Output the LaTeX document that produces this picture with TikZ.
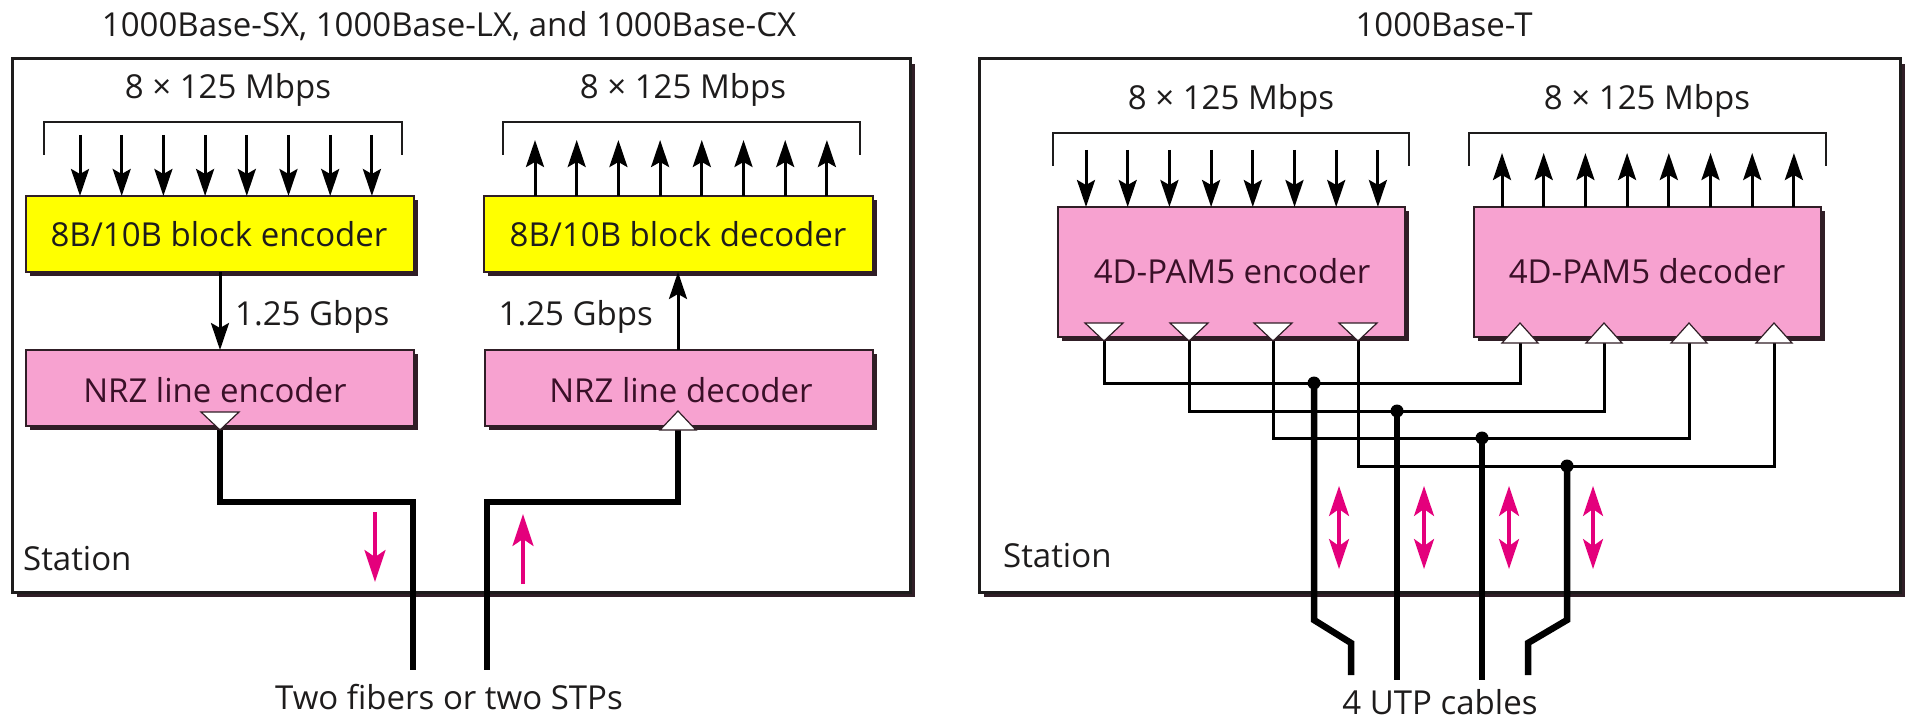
\documentclass[tikz,border=0pt]{standalone}
\usepackage{fontspec}
\setmainfont{Open Sans}
\usetikzlibrary{arrows.meta,shadows}
\definecolor{ybox}{RGB}{255,255,0}
\definecolor{pbox}{RGB}{247,162,208}
\definecolor{mag}{RGB}{228,0,124}
\definecolor{ink}{RGB}{30,28,28}
\definecolor{pink ink}{RGB}{58,16,40}
\definecolor{shad}{RGB}{48,30,38}
\tikzset{
  lbl/.style={font=\fontsize{33}{39}\selectfont, text=ink, inner sep=0pt, anchor=base},
  station/.style={draw=ink, line width=3pt, fill=white, inner sep=0pt, outer sep=0pt,
    drop shadow={shadow xshift=5pt, shadow yshift=-5pt, fill=shad, opacity=1}},
  blk/.style={draw=shad, line width=1.2pt, inner sep=0pt, outer sep=0pt, anchor=north west,
    drop shadow={shadow xshift=4pt, shadow yshift=-4pt, fill=shad, opacity=1}},
  yblk/.style={blk, fill=ybox},
  pblk/.style={blk, fill=pbox},
  arr/.style={draw=black, line width=3pt, -{Stealth[length=27pt,width=18pt,inset=5pt]}},
  brk/.style={draw=ink, line width=2pt},
  tri/.style={draw=shad, line width=1.2pt, fill=white},
  cable/.style={draw=black, line width=6.5pt},
  wire/.style={draw=black, line width=3pt},
  marr/.style={draw=mag, line width=3.2pt, -{Stealth[length=32pt,width=21pt,inset=7pt]}},
  mdarr/.style={draw=mag, line width=3.2pt, {Stealth[length=30pt,width=20pt,inset=7pt]}-{Stealth[length=30pt,width=20pt,inset=7pt]}},
}
\begin{document}
\begin{tikzpicture}[x=1pt,y=-1pt]
\useasboundingbox (0,0) rectangle (1911,722);

% ---------------- titles ----------------
\node[lbl] (titleL) at (449,37) {1000Base-SX, 1000Base-LX, and 1000Base-CX};
\node[lbl] (titleR) at (1444,37) {1000Base-T};

% ---------------- station boxes ----------------
\node[station, anchor=north west, minimum width=898pt, minimum height=533pt] (stL) at (12,59) {};
\node[station, anchor=north west, minimum width=921pt, minimum height=533pt] (stR) at (979,59) {};
\node[lbl, anchor=base west] (stationL) at (23,570) {Station};
\node[lbl, anchor=base west] (stationR) at (1003,567) {Station};

% ================= LEFT =================
\node[lbl] (rateLA) at (228,99) {8 × 125 Mbps};
\node[lbl] (rateLB) at (683,99) {8 × 125 Mbps};
\draw[brk] (44,155) -- (44,122) -- (402,122) -- (402,155);
\draw[brk] (503,155) -- (503,122) -- (860,122) -- (860,155);

\node[yblk, minimum width=388pt, minimum height=76pt] (enc) at (26,196) {};
\node[yblk, minimum width=389pt, minimum height=76pt] (dec) at (484,196) {};
\node[pblk, minimum width=388pt, minimum height=76pt] (nrze) at (26,350) {};
\node[pblk, minimum width=388pt, minimum height=76pt] (nrzd) at (485,350) {};
\node[lbl] (encl) at (219,247) {8B/10B block encoder};
\node[lbl] (decl) at (678,247) {8B/10B block decoder};
\node[lbl, text=pink ink] (nrzel) at (215,402) {NRZ line encoder};
\node[lbl, text=pink ink] (nrzdl) at (681,402) {NRZ line decoder};

\foreach \i in {0,...,7} {
  \draw[arr] ([xshift={54pt+41.7pt*\i},yshift=61pt]enc.north west) -- ([xshift={54pt+41.7pt*\i}]enc.north west);
  \draw[arr] ([xshift={51pt+41.7pt*\i}]dec.north west) -- ([xshift={51pt+41.7pt*\i},yshift=56pt]dec.north west);
}

\coordinate (encb) at (220,272);
\coordinate (nrzet) at (220,350);
\coordinate (nrzdt) at (678,350);
\coordinate (decb) at (678,272);
\draw[arr] (encb) -- (nrzet);
\draw[arr] (nrzdt) -- (decb);
\node[lbl, anchor=base west] (gL) at (235,325) {1.25 Gbps};
\node[lbl, anchor=base east] (gR) at (653,325) {1.25 Gbps};

% triangles
\coordinate (tE) at (220,430);
\coordinate (tD) at (678,411);
\coordinate (fibA) at (413,670);
\coordinate (fibB) at (487,670);
\draw[cable] (tE) -- ++(0,72) -| (fibA);
\draw[cable] ([yshift=-19pt]tD) -- ++(0,72) -| (fibB);
\draw[tri] ([shift={(-19,-18)}]tE) -- ([shift={(19,-18)}]tE) -- (tE) -- cycle;
\draw[tri] (tD) -- ([shift={(18,19)}]tD) -- ([shift={(-18,19)}]tD) -- cycle;

\coordinate (mA1) at (375,512);
\coordinate (mA2) at (375,582);
\coordinate (mB1) at (523,584);
\coordinate (mB2) at (523,514);
\draw[marr] (mA1) -- (mA2);
\draw[marr] (mB1) -- (mB2);

\node[lbl] (fibers) at (449,709) {Two fibers or two STPs};

% ================= RIGHT =================
\node[lbl] (rateRA) at (1231,110) {8 × 125 Mbps};
\node[lbl] (rateRB) at (1647,110) {8 × 125 Mbps};
\draw[brk] (1053,166) -- (1053,133) -- (1409,133) -- (1409,166);
\draw[brk] (1469,166) -- (1469,133) -- (1826,133) -- (1826,166);

\node[pblk, minimum width=347pt, minimum height=130pt] (penc) at (1058,207) {};
\node[pblk, minimum width=347pt, minimum height=130pt] (pdec) at (1474,207) {};
\node[lbl, text=pink ink] (pencl) at (1232,283) {4D-PAM5 encoder};
\node[lbl, text=pink ink] (pdecl) at (1647,283) {4D-PAM5 decoder};

\foreach \i in {0,...,7} {
  \draw[arr] ([xshift={28pt+41.7pt*\i},yshift=57pt]penc.north west) -- ([xshift={28pt+41.7pt*\i}]penc.north west);
  \draw[arr] ([xshift={28pt+41.7pt*\i}]pdec.north west) -- ([xshift={28pt+41.7pt*\i},yshift=54pt]pdec.north west);
}

% triangle apex coordinates
\coordinate (e1) at (1104,341);
\coordinate (e2) at (1189,341);
\coordinate (e3) at (1273,341);
\coordinate (e4) at (1358,341);
\coordinate (d1) at (1520,343);
\coordinate (d2) at (1604,343);
\coordinate (d3) at (1689,343);
\coordinate (d4) at (1774,343);
% junctions
\coordinate (j1) at (1314,383);
\coordinate (j2) at (1397,411);
\coordinate (j3) at (1482,438);
\coordinate (j4) at (1567,466);
% cable ends
\coordinate (u1) at (1351,675);
\coordinate (u2) at (1397,680);
\coordinate (u3) at (1482,680);
\coordinate (u4) at (1528,675);

\draw[wire] (e1) |- (j1) -| (d1);
\draw[wire] (e2) |- (j2) -| (d2);
\draw[wire] (e3) |- (j3) -| (d3);
\draw[wire] (e4) |- (j4) -| (d4);

\draw[cable, line join=miter] (j1) -- ++(0,237) -- ++(37,23) -- (u1);
\draw[cable] (j2) -- (u2);
\draw[cable] (j3) -- (u3);
\draw[cable, line join=miter] (j4) -- ++(0,154) -- ++(-39,23) -- (u4);
\foreach \j in {j1,j2,j3,j4} \fill (\j) circle (6.5pt);

\foreach \e in {e1,e2,e3,e4}
  \draw[tri] ([shift={(-19,-18)}]\e) -- ([shift={(19,-18)}]\e) -- (\e) -- cycle;
\foreach \d in {d1,d2,d3,d4}
  \draw[tri] ([yshift=20pt]\d) -- ([shift={(18,0)}]\d) -- ([shift={(-18,0)}]\d) -- cycle;

\coordinate (m1) at (1339,486);
\coordinate (m1b) at (1339,569);
\coordinate (m2) at (1424,486);
\coordinate (m2b) at (1424,569);
\coordinate (m3) at (1509,486);
\coordinate (m3b) at (1509,569);
\coordinate (m4) at (1593,486);
\coordinate (m4b) at (1593,569);
\draw[mdarr] (m1) -- (m1b);
\draw[mdarr] (m2) -- (m2b);
\draw[mdarr] (m3) -- (m3b);
\draw[mdarr] (m4) -- (m4b);

\node[lbl] (utp) at (1440,714) {4 UTP cables};
\end{tikzpicture}
\end{document}
